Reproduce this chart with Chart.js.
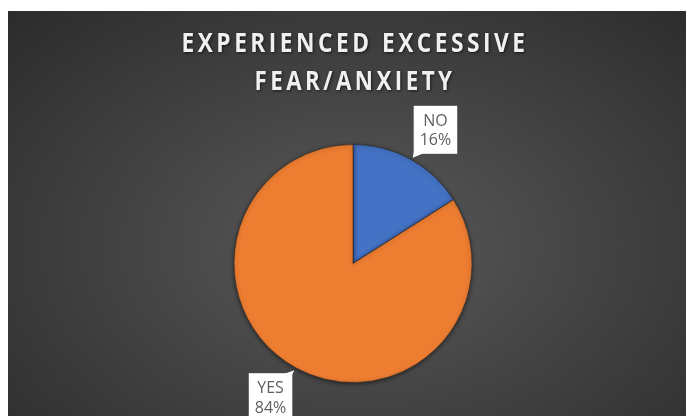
<!DOCTYPE html>
<html>
<head>
<meta charset="utf-8">
<script src="https://cdn.jsdelivr.net/npm/chart.js@4.4.1/dist/chart.umd.min.js"></script>
<style>
  html, body { margin: 0; padding: 0; background: #ffffff; }
  #wrap {
    position: absolute; left: 8px; top: 11px; width: 678px; height: 405px;
    background: radial-gradient(ellipse 75% 85% at 52% 58%, #5a5a5a 0%, #444444 45%, #2a2a2a 100%);
  }
  canvas { display: block; }
</style>
</head>
<body>
<div id="wrap"><canvas id="c" width="678" height="405"></canvas></div>
<script>
const TITLE_LINES = ["EXPERIENCED EXCESSIVE", "FEAR/ANXIETY"];
const CATEGORIES = ["NO", "YES"];
const VALUES = [16, 84];
const COLORS = ["#4472C4", "#ED7D31"];

const titlePlugin = {
  id: 'customTitle',
  afterDraw(chart) {
    const ctx = chart.ctx;
    ctx.save();
    ctx.font = "bold 26px 'Open Sans'";
    ctx.textAlign = 'center';
    ctx.textBaseline = 'middle';
    try { ctx.letterSpacing = '4px'; } catch (e) {}
    ctx.shadowColor = 'rgba(0,0,0,0.6)';
    ctx.shadowBlur = 3;
    ctx.shadowOffsetX = 1;
    ctx.shadowOffsetY = 1;
    ctx.fillStyle = '#f0f0f0';
    const cx = 345 + 2;
    const widths = [347, 201];
    TITLE_LINES.forEach((t, i) => {
      ctx.fillText(t, cx, 34 + i * 37.5, widths[i]);
    });
    ctx.restore();
  }
};

const pieShadow = {
  id: 'pieShadow',
  beforeDatasetsDraw(chart) {
    const ctx = chart.ctx;
    ctx.save();
    ctx.shadowColor = 'rgba(0,0,0,0.55)';
    ctx.shadowBlur = 4;
    ctx.shadowOffsetY = 1;
  },
  afterDatasetsDraw(chart) {
    chart.ctx.restore();
  }
};

const labelPlugin = {
  id: 'calloutLabels',
  afterDatasetsDraw(chart) {
    const ctx = chart.ctx;
    const meta = chart.getDatasetMeta(0);
    const total = VALUES.reduce((a, b) => a + b, 0);
    meta.data.forEach((arc, i) => {
      const mid = (arc.startAngle + arc.endAngle) / 2 + 0.05;
      const r = arc.outerRadius * 1.32;
      const cx = arc.x + Math.cos(mid) * r;
      const cy = arc.y + Math.sin(mid) * r;
      const l1 = CATEGORIES[i];
      const l2 = Math.round(VALUES[i] / total * 100) + '%';
      ctx.save();
      ctx.font = "16px 'Open Sans'";
      const w = Math.max(ctx.measureText(l1).width, ctx.measureText(l2).width) + 12;
      const h = 48;
      const bx = cx - w / 2, by = cy - h / 2;
      ctx.fillStyle = '#ffffff';
      ctx.fillRect(bx, by, w, h);
      ctx.beginPath();
      if (arc.y + Math.sin(mid) * arc.outerRadius < cy) {
        ctx.moveTo(bx + w - 9, by + 1);
        ctx.lineTo(bx + w, by + 1);
        ctx.lineTo(bx + w + 2, by - 3);
      } else {
        ctx.moveTo(bx, by + h - 1);
        ctx.lineTo(bx + 11, by + h - 1);
        ctx.lineTo(bx - 1, by + h + 4);
      }
      ctx.closePath();
      ctx.fill();
      ctx.fillStyle = '#5f5f5f';
      ctx.textAlign = 'center';
      ctx.textBaseline = 'middle';
      ctx.fillText(l1, cx, cy - 8.5);
      ctx.fillText(l2, cx, cy + 11);
      ctx.restore();
    });
  }
};

new Chart(document.getElementById('c'), {
  type: 'pie',
  data: {
    labels: CATEGORIES,
    datasets: [{
      data: VALUES,
      backgroundColor: COLORS,
      borderColor: 'rgba(40,40,40,0.6)',
      borderWidth: 1
    }]
  },
  options: {
    responsive: false,
    animation: false,
    events: [],
    layout: { padding: { top: 133, bottom: 33, left: 225, right: 213 } },
    plugins: {
      legend: { display: false },
      title: { display: false },
      tooltip: { enabled: false }
    }
  },
  plugins: [pieShadow, labelPlugin, titlePlugin]
});
</script>
</body>
</html>
